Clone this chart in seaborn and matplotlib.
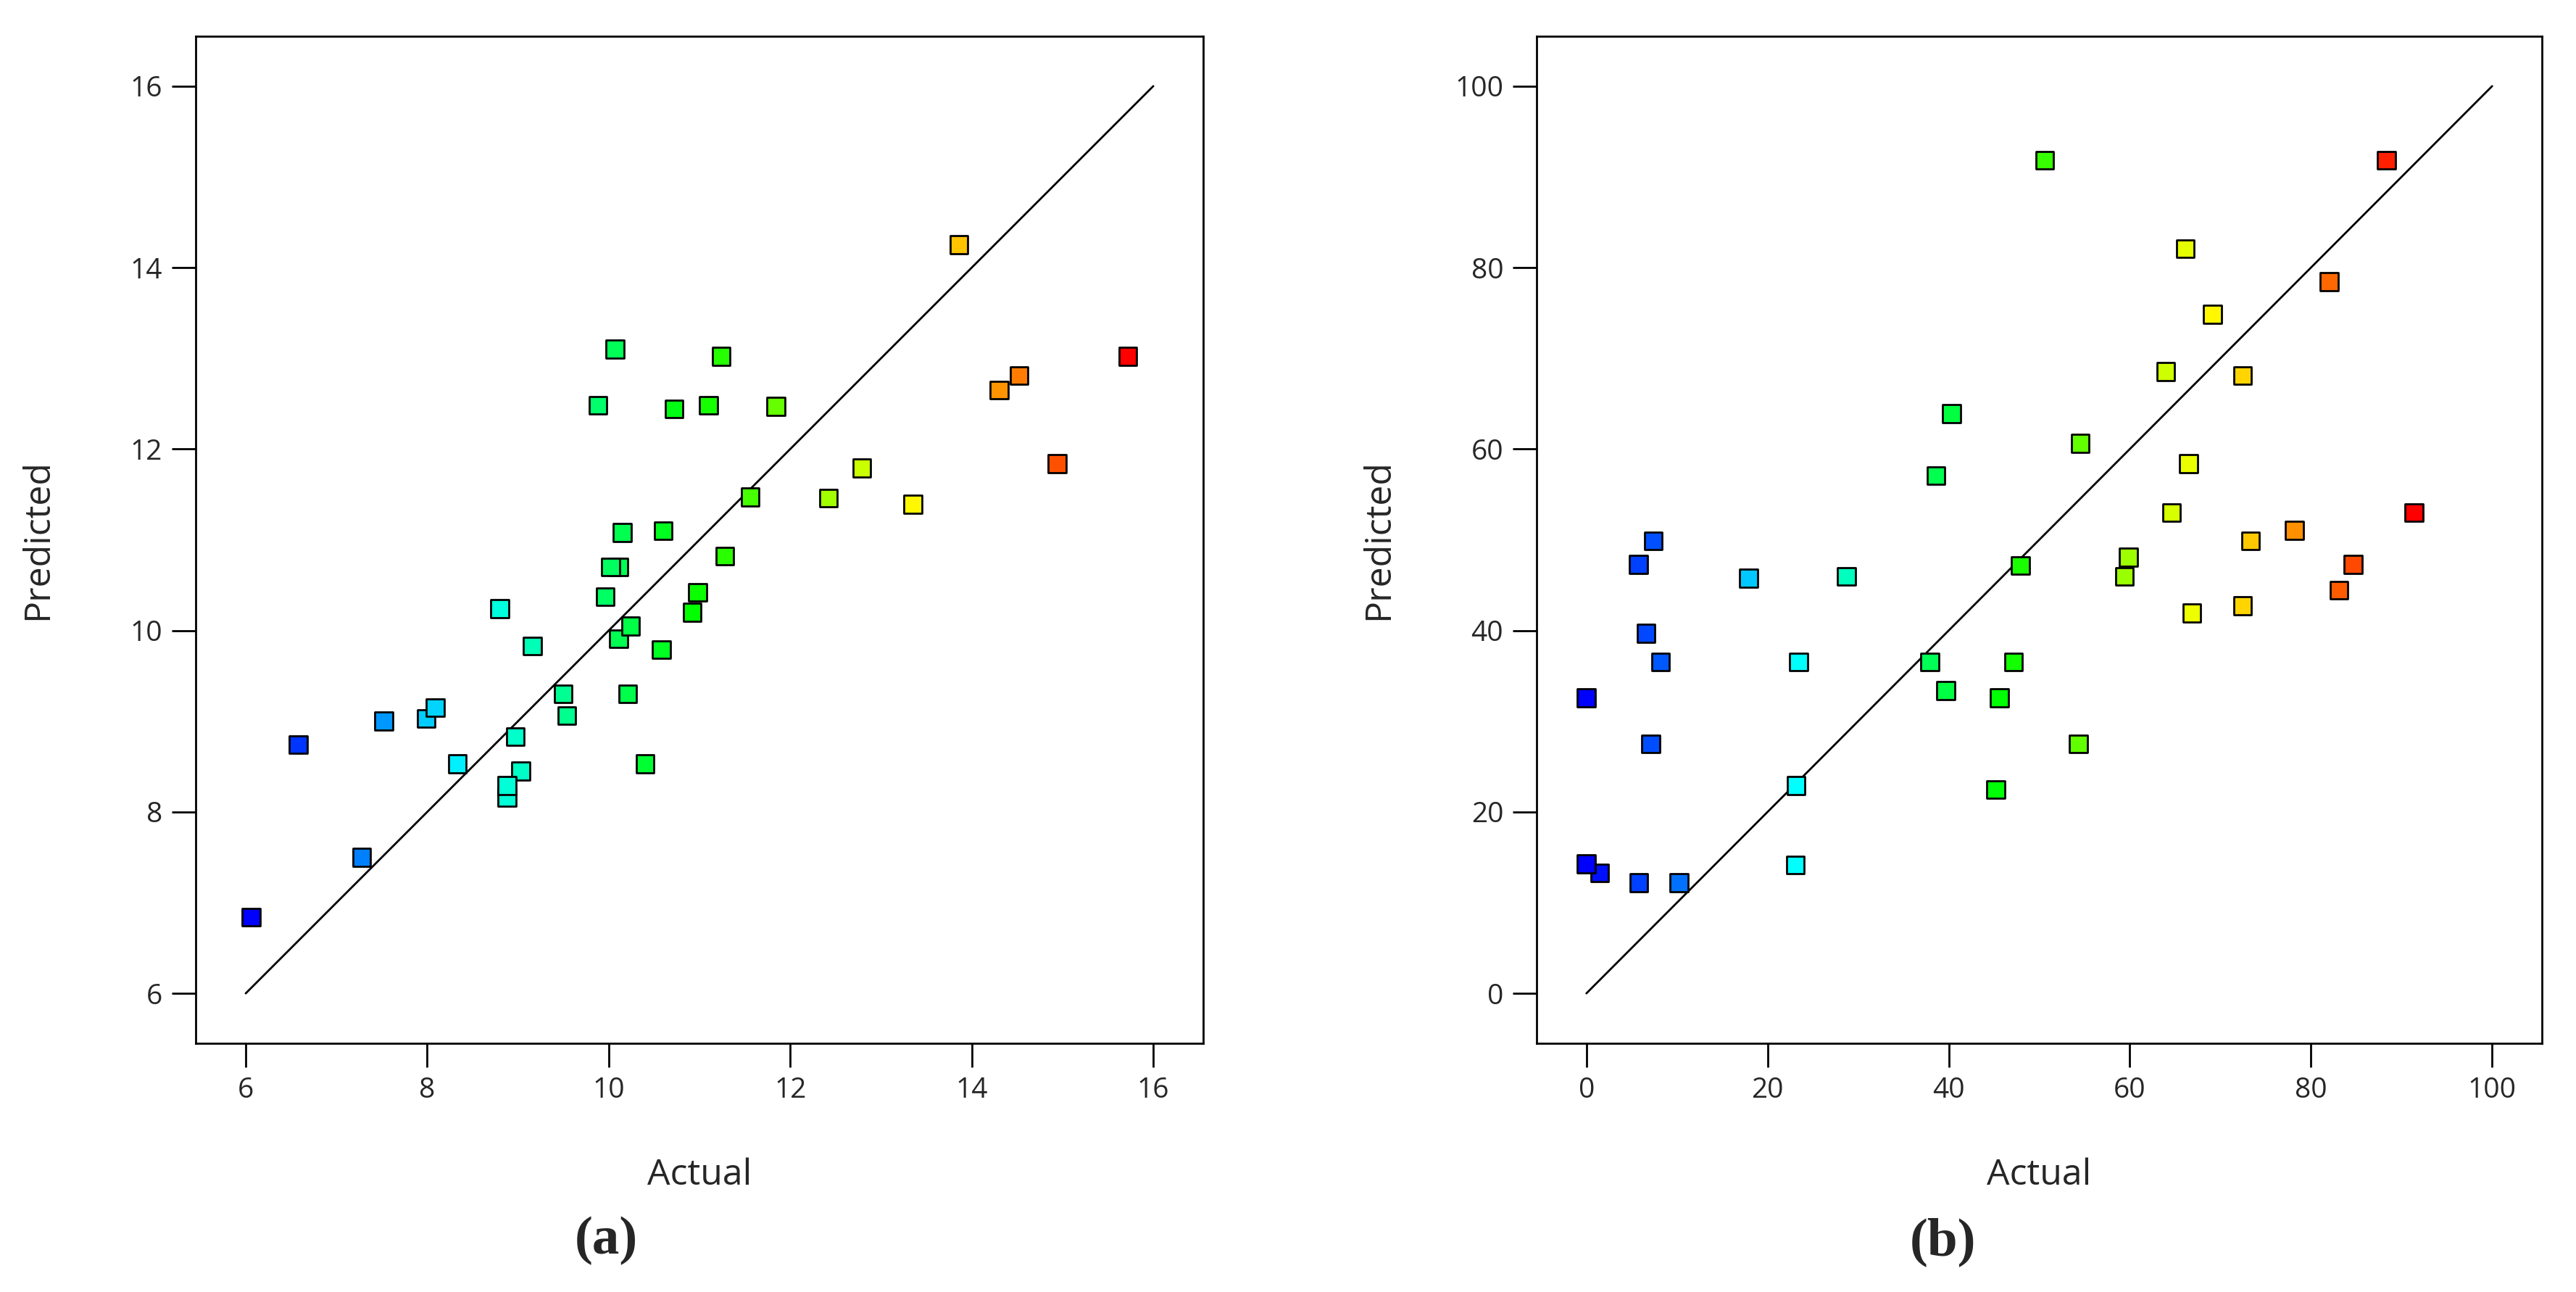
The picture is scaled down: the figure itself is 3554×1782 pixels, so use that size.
import numpy as np
import pandas as pd
import matplotlib
matplotlib.use('Agg')
import matplotlib.pyplot as plt
from matplotlib.colors import LinearSegmentedColormap
import seaborn as sns

# Panel (a): actual vs predicted
actual_a = [6.06, 6.58, 7.28, 7.52, 7.99, 8.09, 8.33, 8.80, 8.97, 9.03, 8.88, 8.88,
            9.16, 9.50, 9.54, 9.88, 9.96, 10.07, 10.11, 10.02, 10.11, 10.15, 10.24,
            10.21, 10.40, 10.58, 10.60, 10.72, 10.92, 10.98, 11.10, 11.24, 11.28,
            11.56, 11.84, 12.42, 12.79, 13.35, 13.86, 14.30, 14.52, 14.94, 15.72]
predicted_a = [6.84, 8.74, 7.50, 9.00, 9.03, 9.15, 8.53, 10.24, 8.83, 8.45, 8.16, 8.29,
               9.83, 9.30, 9.06, 12.48, 10.37, 13.10, 10.70, 10.70, 9.91, 11.08, 10.05,
               9.30, 8.53, 9.79, 11.10, 12.44, 10.20, 10.42, 12.48, 13.02, 10.82,
               11.47, 12.47, 11.46, 11.79, 11.39, 14.25, 12.65, 12.81, 11.84, 13.02]
ticks_a = [6, 8, 10, 12, 14, 16]
diag_a = [6, 16]

# Panel (b): actual vs predicted
actual_b = [0.0, 1.45, 0.0, 5.80, 5.73, 7.40, 6.60, 8.19, 7.11, 10.22, 17.91, 23.42,
            23.13, 23.06, 28.72, 37.93, 38.58, 39.67, 40.32, 45.18, 45.61, 47.14,
            47.93, 50.62, 54.31, 54.53, 59.39, 59.83, 63.96, 64.61, 66.14, 66.50,
            66.86, 69.11, 72.44, 72.44, 73.31, 78.17, 82.02, 83.10, 84.63, 88.32, 91.37]
predicted_b = [32.56, 13.27, 14.29, 12.18, 47.28, 49.89, 39.67, 36.55, 27.48, 12.18,
               45.76, 36.55, 22.92, 14.14, 45.98, 36.55, 57.07, 33.36, 63.89, 22.48,
               32.56, 36.55, 47.14, 91.81, 27.48, 60.62, 45.98, 48.08, 68.53, 53.01,
               82.09, 58.38, 41.92, 74.84, 68.09, 42.71, 49.89, 51.05, 78.46, 44.45,
               47.28, 91.81, 53.01]
ticks_b = [0, 20, 40, 60, 80, 100]
diag_b = [0, 100]

sns.set_style('ticks')
plt.rcParams['font.family'] = ['Open Sans', 'DejaVu Sans']

# blue -> cyan -> green -> yellow -> red, like the Design-Expert palette
rainbow = LinearSegmentedColormap.from_list(
    'de_rainbow', ['#0000ff', '#00ffff', '#00ff00', '#ffff00', '#ff0000'])

fig = plt.figure(figsize=(35.54, 17.82), dpi=100)
ax_a = fig.add_axes([0.0760, 0.1925, 0.3911, 0.7795])
ax_b = fig.add_axes([0.5965, 0.1925, 0.3903, 0.7795])


def draw_panel(ax, actual, predicted, ticks, diag, lims):
    df = pd.DataFrame({'Actual': actual, 'Predicted': predicted})

    # 1:1 reference line
    sns.lineplot(x=diag, y=diag, color='black', linewidth=2, ax=ax, zorder=1)

    # points coloured by actual value
    sns.scatterplot(data=df, x='Actual', y='Predicted', hue='Actual',
                    palette=rainbow, hue_norm=(min(actual), max(actual)),
                    marker='s', s=310, edgecolor='black', linewidth=2,
                    legend=False, ax=ax, zorder=3)

    ax.set_xlim(lims)
    ax.set_ylim(lims)
    ax.set_xticks(ticks)
    ax.set_yticks(ticks)
    ax.tick_params(axis='both', direction='out', length=24, width=2,
                   labelsize=28, pad=9, color='black')
    for side in ['top', 'right', 'bottom', 'left']:
        ax.spines[side].set_visible(True)
        ax.spines[side].set_linewidth(2)
        ax.spines[side].set_color('black')

    ax.set_xlabel('Actual', fontsize=36, va='center')
    ax.set_ylabel('Predicted', fontsize=36, va='center')
    ax.xaxis.set_label_coords(0.5, -0.131)
    ax.yaxis.set_label_coords(-0.157, 0.5)


draw_panel(ax_a, actual_a, predicted_a, ticks_a, diag_a, (5.45, 16.55))
draw_panel(ax_b, actual_b, predicted_b, ticks_b, diag_b, (-5.5, 105.5))

fig.text(836 / 3554, 1 - 1711 / 1782, '(a)', ha='center', va='center',
         fontsize=54, fontweight='bold', family='Liberation Serif')
fig.text(2680 / 3554, 1 - 1713 / 1782, '(b)', ha='center', va='center',
         fontsize=54, fontweight='bold', family='Liberation Serif')

fig.savefig('out.png', dpi=100, facecolor='white')
